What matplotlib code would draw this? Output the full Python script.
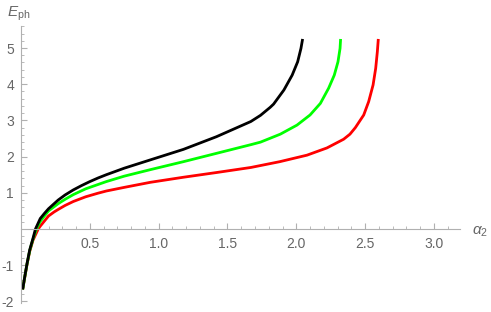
import matplotlib
matplotlib.use("Agg")
import matplotlib.pyplot as plt
from matplotlib.ticker import MultipleLocator, FixedLocator

# Data
black_x = [0.012, 0.027, 0.044, 0.063, 0.087, 0.105, 0.14, 0.17, 0.20, 0.27, 0.32, 0.38, 0.44, 0.50,
           0.56, 0.62, 0.75, 0.94, 1.18, 1.42, 1.67, 1.74, 1.81, 1.835, 1.91, 1.97, 2.01, 2.034, 2.046]
black_y = [-1.67, -1.32, -0.95, -0.58, -0.26, 0.0, 0.29, 0.43, 0.56, 0.80, 0.94, 1.08, 1.20, 1.31,
           1.41, 1.50, 1.68, 1.91, 2.20, 2.55, 2.97, 3.14, 3.36, 3.45, 3.84, 4.25, 4.62, 4.99, 5.25]

green_x = [0.012, 0.027, 0.044, 0.063, 0.087, 0.112, 0.14, 0.17, 0.20, 0.27, 0.32, 0.38, 0.47, 0.56,
           0.62, 0.75, 0.94, 1.18, 1.42, 1.67, 1.74, 1.884, 2.005, 2.10, 2.175, 2.235, 2.276, 2.303,
           2.318, 2.322]
green_y = [-1.67, -1.33, -0.96, -0.60, -0.28, 0.0, 0.21, 0.36, 0.50, 0.70, 0.82, 0.95, 1.11, 1.23,
           1.31, 1.46, 1.64, 1.86, 2.09, 2.33, 2.40, 2.62, 2.87, 3.15, 3.47, 3.89, 4.25, 4.62,
           4.99, 5.25]

red_x = [0.012, 0.027, 0.044, 0.063, 0.087, 0.125, 0.14, 0.17, 0.20, 0.24, 0.27, 0.32, 0.38, 0.47,
         0.56, 0.62, 0.75, 0.94, 1.18, 1.42, 1.67, 1.88, 2.078, 2.223, 2.344, 2.39, 2.429, 2.49,
         2.526, 2.558, 2.577, 2.589, 2.596]
red_y = [-1.67, -1.34, -0.97, -0.62, -0.31, 0.0, 0.08, 0.22, 0.36, 0.47, 0.54, 0.65, 0.76, 0.89,
         0.99, 1.05, 1.15, 1.29, 1.43, 1.56, 1.70, 1.86, 2.04, 2.24, 2.48, 2.62, 2.80, 3.15,
         3.52, 3.98, 4.44, 4.90, 5.25]

x_ticks = [0.5, 1.0, 1.5, 2.0, 2.5, 3.0]
x_tick_labels = ["0.5", "1.0", "1.5", "2.0", "2.5", "3.0"]
y_ticks = [-2, -1, 1, 2, 3, 4, 5]
y_tick_labels = ["-2", "-1", "1", "2", "3", "4", "5"]

plt.rcParams['font.family'] = ['Liberation Sans', 'DejaVu Sans']
plt.rcParams['mathtext.fontset'] = 'custom'
plt.rcParams['mathtext.rm'] = 'Liberation Sans'
plt.rcParams['mathtext.it'] = 'Liberation Sans:italic'

fig = plt.figure(figsize=(4.91, 3.12), dpi=100)
ax = fig.add_axes([0.0428, 0.0282, 0.8942, 0.8875])

ax.plot(red_x, red_y, color=(1, 0, 0), lw=2, solid_capstyle='butt', solid_joinstyle='round')
ax.plot(green_x, green_y, color=(0, 1, 0), lw=2, solid_capstyle='butt', solid_joinstyle='round')
ax.plot(black_x, black_y, color='black', lw=2, solid_capstyle='butt', solid_joinstyle='round')

ax.set_xlim(0, 3.19)
ax.set_ylim(-2.05, 5.6)

axis_col = '#b0b0b0'
text_col = '#666666'
ax.spines['left'].set_position(('data', 0))
ax.spines['bottom'].set_position(('data', 0))
ax.spines['right'].set_visible(False)
ax.spines['top'].set_visible(False)
for s in ('left', 'bottom'):
    ax.spines[s].set_color(axis_col)
    ax.spines[s].set_linewidth(0.8)

ax.xaxis.set_major_locator(FixedLocator(x_ticks))
ax.set_xticklabels(x_tick_labels)
ax.xaxis.set_minor_locator(MultipleLocator(0.1))
ax.yaxis.set_major_locator(FixedLocator(y_ticks))
ax.set_yticklabels(y_tick_labels)
ax.yaxis.set_minor_locator(MultipleLocator(0.2))

ax.tick_params(axis='both', which='major', direction='in', length=4, width=0.8,
               color=axis_col, labelcolor=text_col, labelsize=10)
ax.tick_params(axis='both', which='minor', direction='in', length=2, width=0.6,
               color=axis_col)
ax.tick_params(axis='x', which='major', pad=6)
ax.tick_params(axis='y', which='major', pad=5)

fig.text(472 / 491, 1 - 232 / 312, r'$\alpha_2$', color=text_col, fontsize=11,
         ha='left', va='center')
fig.text(19 / 491, 1 - 14 / 312, r'$E_{\rm ph}$', color=text_col, fontsize=11,
         ha='center', va='center')

fig.savefig('out.png', dpi=100)
